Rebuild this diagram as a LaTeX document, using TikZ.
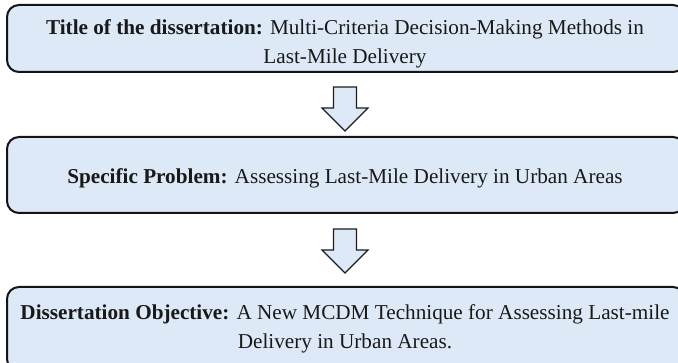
\documentclass[tikz,border=0pt]{standalone}
\usepackage{fontspec}
\setmainfont{Liberation Serif}
\begin{document}
\begin{tikzpicture}[x=1pt,y=-1pt,
  boxfill/.style={fill={rgb,255:red,221;green,233;blue,246}},
  flowbox/.style={boxfill, draw={rgb,255:red,20;green,20;blue,20}, line width=2pt,
    rounded corners=12pt, rectangle, inner sep=0pt},
  boxtext/.style={align=center, inner sep=0pt, text={rgb,255:red,25;green,25;blue,25},
    font=\fontsize{21.2pt}{29pt}\selectfont},
  arrowstyle/.style={boxfill, draw={rgb,255:red,30;green,30;blue,30}, line width=1.2pt,
    line join=miter},
  downarrow/.pic={\draw[arrowstyle] (-11.5,0) -- (11.5,0) -- (11.5,21) -- (23,21)
    -- (0,44) -- (-23,21) -- (-11.5,21) -- cycle;}]
\useasboundingbox (0,0) rectangle (678,363);
% three stages of the study
\node[flowbox, minimum width=678pt, minimum height=67pt] (b1) at (346,38.5) {};
\node[flowbox, minimum width=678pt, minimum height=76pt] (b2) at (346,175) {};
\node[flowbox, minimum width=678pt, minimum height=84pt] (b3) at (346,329) {};
\node[boxtext] (t1) at (345,44) {\textbf{Title of the dissertation:} Multi-Criteria Decision-Making Methods in\\Last-Mile Delivery};
\node[boxtext] (t2) at (345,178) {\textbf{Specific Problem:} Assessing Last-Mile Delivery in Urban Areas};
\node[boxtext] (t3) at (345,328.5) {\textbf{Dissertation Objective:} A New MCDM Technique for Assessing Last-mile\\Delivery in Urban Areas.};
% block arrows between the stages
\pic at (345,87) {downarrow};
\pic at (345,229) {downarrow};
\end{tikzpicture}
\end{document}
